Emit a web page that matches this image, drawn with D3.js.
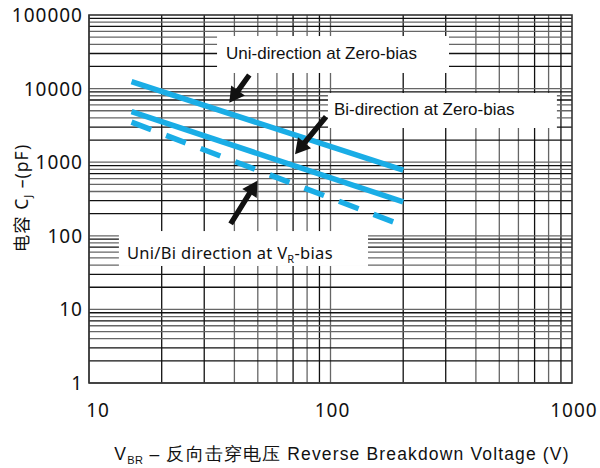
<!DOCTYPE html>
<html>
<head>
    <meta charset="utf-8">
    <style>
        body { margin: 0; background: white; }
        svg { font-family: "Liberation Sans", Arial, sans-serif; }
        .tick-label { font-family: "Noto Sans", sans-serif; font-size: 19px; letter-spacing: 1px; fill: #111; }
        .curve { fill: none; stroke: #1aade6; stroke-width: 5.5px; }
        .note { font-size: 17px; fill: #111; }
    </style>
    <script src="https://cdn.jsdelivr.net/npm/d3@7"></script>
</head>
<body>
<div id="chart"></div>
<script>
    // breakdown voltage (V) at both ends of each curve
    var vbr = [15, 200];
    // junction capacitance (pF)
    var uniZero = [12400, 780];
    var biZero = [4850, 290];
    var vrBias = [3500, 137];

    var labels = ["Uni-direction at Zero-bias", "Bi-direction at Zero-bias", "Uni/Bi direction at V", "R", "-bias"];
    var xTicks = [10, 100, 1000];
    var yTicks = [1, 10, 100, 1000, 10000, 100000];

    // annotation anchors in data units: [x0, y0, x1, y1]
    var boxes = [
        [33.9, 51800, 309.5, 16300],
        [97.6, 8710, 866, 2915],
        [13.3, 116, 143, 38.9]
    ];
    // arrows: tail -> tip
    var arrows = [
        [46.1, 15300, 38.1, 6430],
        [95.8, 4150, 71.3, 1280],
        [38.6, 145, 49.8, 561]
    ];

    var width = 600, height = 468;
    var pL = 89, pR = 572, pT = 15, pB = 383;

    var x = d3.scaleLog().domain([10, 1000]).range([pL, pR]);
    var y = d3.scaleLog().domain([1, 100000]).range([pB, pT]);

    var svg = d3.select("#chart").append("svg")
        .attr("width", width)
        .attr("height", height);

    // grid, minor lines in alternating shades like the datasheet scan
    var shade = { 1: "#666", 2: "#111", 3: "#111", 4: "#666", 5: "#666", 6: "#666", 7: "#111", 8: "#666", 9: "#111" };
    var xs = [], ys = [];
    [10, 100].forEach(function (d) { for (var m = 1; m < 10; m++) xs.push({ v: d * m, m: m }); });
    [1, 10, 100, 1000, 10000].forEach(function (d) { for (var m = 1; m < 10; m++) ys.push({ v: d * m, m: m }); });

    var grid = svg.append("g");
    grid.selectAll(".vx").data(xs).enter().append("line")
        .attr("x1", function (d) { return x(d.v); })
        .attr("x2", function (d) { return x(d.v); })
        .attr("y1", pT).attr("y2", pB)
        .attr("stroke", function (d) { return shade[d.m]; })
        .attr("stroke-width", 1.3);
    grid.selectAll(".hy").data(ys).enter().append("line")
        .attr("y1", function (d) { return y(d.v); })
        .attr("y2", function (d) { return y(d.v); })
        .attr("x1", pL).attr("x2", pR)
        .attr("stroke", function (d) { return shade[d.m]; })
        .attr("stroke-width", 1.3);

    svg.append("rect")
        .attr("x", pL).attr("y", pT)
        .attr("width", pR - pL).attr("height", pB - pT)
        .attr("fill", "none").attr("stroke", "#333").attr("stroke-width", 1.6);

    // white label boxes covering the grid
    svg.selectAll(".box").data(boxes).enter().append("rect")
        .attr("x", function (d) { return x(d[0]); })
        .attr("y", function (d) { return y(d[1]); })
        .attr("width", function (d) { return x(d[2]) - x(d[0]); })
        .attr("height", function (d) { return y(d[3]) - y(d[1]); })
        .attr("fill", "white");

    // curves
    var line = d3.line()
        .x(function (d) { return x(d[0]); })
        .y(function (d) { return y(d[1]); });

    svg.append("path").datum(d3.zip(vbr, uniZero)).attr("class", "curve").attr("d", line);
    svg.append("path").datum(d3.zip(vbr, biZero)).attr("class", "curve").attr("d", line);
    svg.append("path").datum(d3.zip(vbr, vrBias)).attr("class", "curve")
        .attr("stroke-dasharray", "21,16").attr("d", line);

    // arrows
    arrows.forEach(function (a) {
        var x0 = x(a[0]), y0 = y(a[1]), x1 = x(a[2]), y1 = y(a[3]);
        var dx = x1 - x0, dy = y1 - y0, len = Math.sqrt(dx * dx + dy * dy);
        var ux = dx / len, uy = dy / len, px = -uy, py = ux;
        var hl = 15, hw = 8.5, sw = 2.7;
        var bx = x1 - ux * hl, by = y1 - uy * hl;
        var pts = [
            [x0 + px * sw, y0 + py * sw],
            [bx + px * sw, by + py * sw],
            [bx + px * hw, by + py * hw],
            [x1, y1],
            [bx - px * hw, by - py * hw],
            [bx - px * sw, by - py * sw],
            [x0 - px * sw, y0 - py * sw]
        ];
        svg.append("path").attr("d", "M" + pts.join("L") + "Z").attr("fill", "#111");
    });

    // labels in the boxes
    svg.append("text").attr("class", "note")
        .attr("x", x(boxes[0][0]) + 9).attr("y", y(boxes[0][1]) + 23).text(labels[0]);
    svg.append("text").attr("class", "note")
        .attr("x", x(boxes[1][0]) + 6).attr("y", y(boxes[1][1]) + 22).text(labels[1]);
    var t3 = svg.append("text").attr("class", "note")
        .style("font-family", "'Noto Sans', sans-serif").style("font-size", "16.5px")
        .style("letter-spacing", "0.3px")
        .attr("x", x(boxes[2][0]) + 8).attr("y", y(boxes[2][1]) + 28);
    t3.append("tspan").text(labels[2]);
    t3.append("tspan").attr("dy", 4).style("font-size", "11px").text(labels[3]);
    t3.append("tspan").attr("dy", -4).text(labels[4]);

    // tick labels
    svg.selectAll(".yl").data(yTicks).enter().append("text")
        .attr("class", "tick-label")
        .attr("x", 83)
        .attr("y", function (d) { return y(d) + 7; })
        .attr("text-anchor", "end")
        .text(function (d) { return d; });
    svg.selectAll(".xl").data(xTicks).enter().append("text")
        .attr("class", "tick-label")
        .attr("x", function (d, i) { return x(d) + (i == 0 ? 9 : 2); })
        .attr("y", 417)
        .attr("text-anchor", "middle")
        .text(function (d) { return d; });

    // axis titles
    var xt = svg.append("text")
        .attr("x", 342).attr("y", 460)
        .attr("text-anchor", "middle")
        .style("font-size", "17.5px").style("letter-spacing", "1.15px").style("fill", "#111");
    xt.append("tspan").text("V");
    xt.append("tspan").attr("dy", 4).style("font-size", "11px").style("letter-spacing", "0.5px").text("BR");
    xt.append("tspan").attr("dy", -4).text(" – 反向击穿电压 Reverse Breakdown Voltage (V)");

    var yt = svg.append("text")
        .attr("transform", "translate(28,198) rotate(-90)")
        .attr("text-anchor", "middle")
        .style("font-family", "'Noto Sans', 'Noto Sans CJK SC', sans-serif")
        .style("font-size", "17.5px").style("letter-spacing", "1px").style("fill", "#111");
    yt.append("tspan").text("电容 C");
    yt.append("tspan").attr("dy", 4).style("font-size", "11px").text("J");
    yt.append("tspan").attr("dy", -4).text(" –(pF)");
</script>
</body>
</html>
